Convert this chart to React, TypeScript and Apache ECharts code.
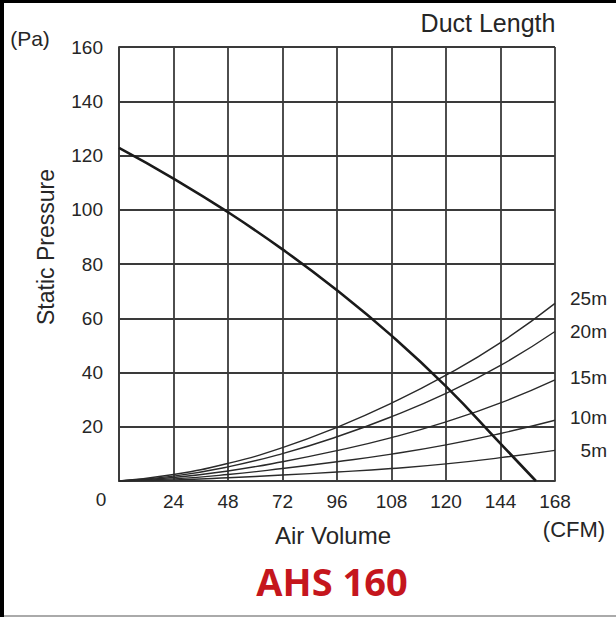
import React, { useEffect, useRef } from "react";
import * as echarts from "echarts";

// x positions are evenly spaced grid columns; labels are the CFM ticks
const xTicks = ["0", "24", "48", "72", "96", "108", "120", "144", "168"];
const xIdx = [0, 1, 2, 3, 4, 5, 6, 7, 8];

// fan curve (static pressure, Pa) at grid columns, then zero crossing
const fanX = [0, 1, 2, 3, 4, 5, 6, 7, 7.65];
const fanY = [122.8, 111.5, 99.1, 85.4, 70.3, 53.6, 34.9, 13.8, 0];

// duct resistance curves
const duct25 = [0, 2.4, 6.5, 12.3, 19.8, 28.7, 39.0, 51.0, 65.5];
const duct20 = [0, 1.8, 5.2, 10.1, 16.3, 23.7, 32.3, 42.6, 55.1];
const duct15 = [0, 1.3, 3.7, 7.1, 11.2, 16.0, 21.8, 28.8, 37.3];
const duct10 = [0, 0.8, 2.4, 4.6, 7.1, 9.9, 13.3, 17.5, 22.4];
const duct5 = [0, 0.4, 1.2, 2.2, 3.3, 4.6, 6.3, 8.6, 11.3];
const ductNames = ["25m", "20m", "15m", "10m", "5m"];
const ductData = [duct25, duct20, duct15, duct10, duct5];
const ductLabelOffsetY = [-5, 0, -2, -3, 0];

const FONT = "'Liberation Sans', Arial, sans-serif";
const TXT = "#262626";
const GRID = "#3a3a3a";

export default function App() {
  const ref = useRef<HTMLDivElement>(null);
  useEffect(() => {
    if (!ref.current) return;
    const chart = echarts.init(ref.current, undefined, { renderer: "svg" });
    const ductSeries = ductData.map((d, i) => ({
      type: "line",
      name: ductNames[i],
      data: d.map((v, j) => [xIdx[j], v]),
      smooth: 0.5,
      symbol: "none",
      lineStyle: { color: "#2a2a2a", width: 1.4 },
      endLabel: {
        show: true,
        formatter: "{a|{a}}",
        distance: 8,
        offset: [0, ductLabelOffsetY[i]],
        rich: {
          a: {
            width: 44,
            align: "right",
            fontSize: 19,
            fontFamily: FONT,
            color: TXT,
          },
        },
      },
      z: 3,
    }));
    chart.setOption({
      animation: false,
      backgroundColor: "#ffffff",
      grid: { left: 119, right: 61, top: 47, bottom: 136 },
      xAxis: {
        type: "value",
        min: 0,
        max: 8,
        interval: 1,
        axisLine: { show: true, lineStyle: { color: GRID, width: 1.8 } },
        axisTick: { show: false },
        splitLine: { show: true, lineStyle: { color: GRID, width: 1.8 } },
        axisLabel: {
          margin: 11,
          fontSize: 19,
          fontFamily: FONT,
          color: TXT,
          formatter: (v: number) => (v === 0 ? "" : xTicks[Math.round(v)]),
        },
      },
      yAxis: {
        type: "value",
        min: 0,
        max: 160,
        interval: 20,
        axisLine: { show: true, lineStyle: { color: GRID, width: 1.8 } },
        axisTick: { show: false },
        splitLine: { show: true, lineStyle: { color: GRID, width: 1.8 } },
        axisLabel: {
          margin: 16,
          fontSize: 19,
          fontFamily: FONT,
          color: TXT,
          formatter: (v: number) => (v === 0 ? "" : String(v)),
        },
      },
      series: [
        ...ductSeries,
        {
          type: "line",
          name: "fan",
          data: fanX.map((x, i) => [x, fanY[i]]),
          smooth: 0.5,
          symbol: "none",
          lineStyle: { color: "#1a1a1a", width: 2.6 },
          z: 4,
        },
      ],
      graphic: [
        { type: "rect", shape: { x: 0, y: 0, width: 616, height: 3 }, style: { fill: "#000" } },
        { type: "rect", shape: { x: 0, y: 0, width: 4, height: 617 }, style: { fill: "#000" } },
        { type: "rect", shape: { x: 4, y: 615, width: 612, height: 2 }, style: { fill: "#aaaaaa" } },
        {
          type: "text", x: 30, y: 38,
          style: { text: "(Pa)", font: `21px ${FONT}`, fill: TXT, align: "center", verticalAlign: "middle" },
        },
        {
          type: "text", x: 488, y: 23,
          style: { text: "Duct Length", font: `25px ${FONT}`, fill: TXT, align: "center", verticalAlign: "middle" },
        },
        {
          type: "text", x: 101, y: 499,
          style: { text: xTicks[0], font: `19px ${FONT}`, fill: TXT, align: "center", verticalAlign: "middle" },
        },
        {
          type: "text", x: 46, y: 247, rotation: Math.PI / 2,
          style: { text: "Static Pressure", font: `23px ${FONT}`, fill: TXT, align: "center", verticalAlign: "middle" },
        },
        {
          type: "text", x: 333, y: 535,
          style: { text: "Air Volume", font: `24px ${FONT}`, fill: TXT, align: "center", verticalAlign: "middle" },
        },
        {
          type: "text", x: 574, y: 529,
          style: { text: "(CFM)", font: `22px ${FONT}`, fill: TXT, align: "center", verticalAlign: "middle" },
        },
        {
          type: "text", x: 332, y: 581,
          style: { text: "AHS 160", font: `bold 38px 'Open Sans', sans-serif`, fill: "#c5161d", align: "center", verticalAlign: "middle" },
        },
      ],
    });
    return () => chart.dispose();
  }, []);
  return (
    <div
      ref={ref}
      style={{ position: "fixed", left: 0, top: 0, width: 616, height: 617 }}
    />
  );
}
